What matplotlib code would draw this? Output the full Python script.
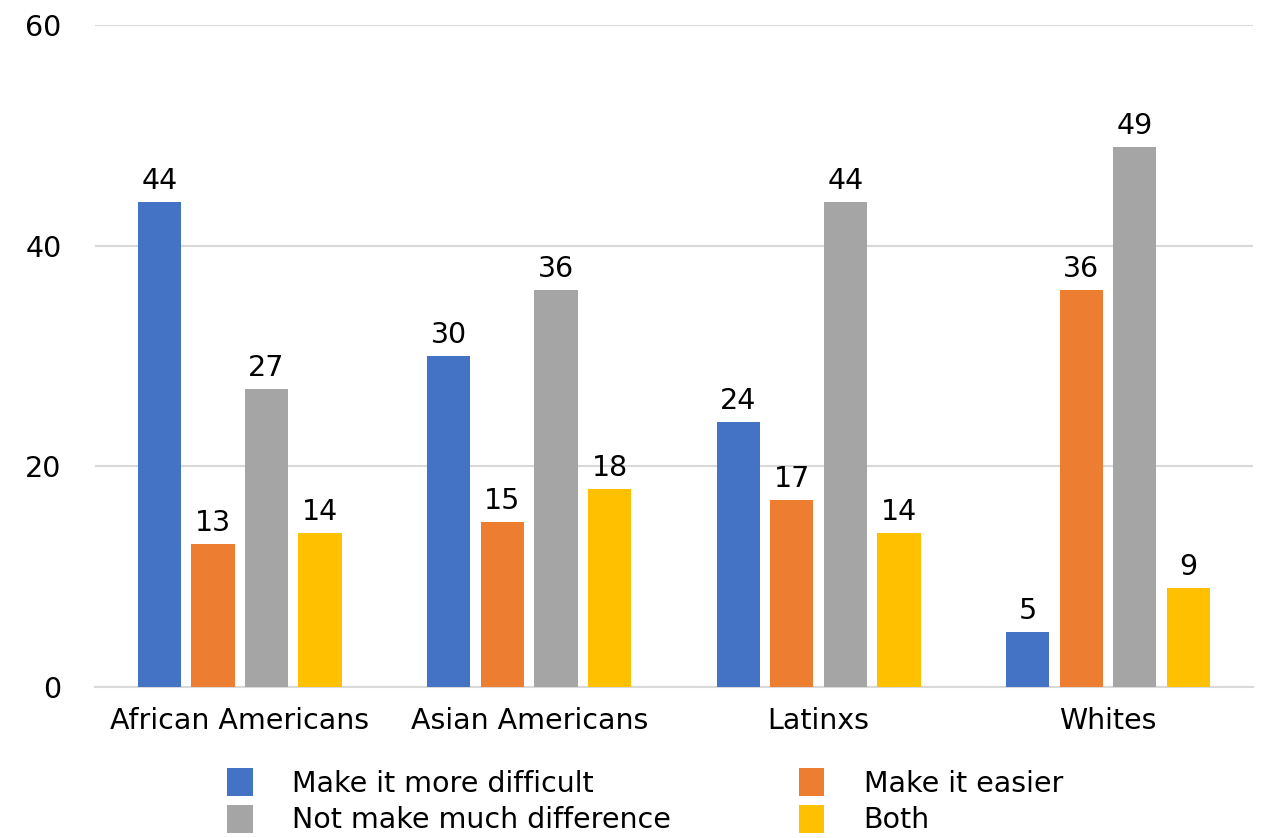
import numpy as np
import matplotlib.pyplot as plt

categories = ['African Americans', 'Asian Americans', 'Latinxs', 'Whites']
series_names = ['Make it more difficult', 'Make it easier',
                'Not make much difference', 'Both']
more_difficult = [44, 30, 24, 5]
easier = [13, 15, 17, 36]
no_difference = [27, 36, 44, 49]
both = [14, 18, 14, 9]
y_ticks = [0, 20, 40, 60]

colours = ['#4472c4', '#ed7d31', '#a5a5a5', '#ffc000']

plt.rcParams['font.family'] = ['DejaVu Sans']
fs = 20.5

fig = plt.figure(figsize=(12.63, 8.38), dpi=100)
ax = fig.add_axes([0.0752, 0.180, 0.9168, 0.790])

x = np.arange(len(categories))
step = 0.185
width = 0.149
values = [more_difficult, easier, no_difference, both]
bars = []
for i, (vals, col, name) in enumerate(zip(values, colours, series_names)):
    b = ax.bar(x + (i - 1.5) * step, vals, width, color=col, label=name, zorder=3)
    ax.bar_label(b, padding=5, fontsize=fs)
    bars.append(b)

ax.set_xlim(-0.5, len(categories) - 0.5)
ax.set_ylim(0, 60)
ax.set_yticks(y_ticks)
ax.set_xticks(x)
ax.set_xticklabels(categories)
ax.tick_params(axis='both', length=0, labelsize=fs)
ax.tick_params(axis='y', pad=24)
ax.tick_params(axis='x', pad=14)
ax.grid(axis='y', color='#d9d9d9', linewidth=1.5, zorder=0)
for side in ['top', 'left', 'right']:
    ax.spines[side].set_visible(False)
ax.spines['bottom'].set_color('#d9d9d9')
ax.spines['bottom'].set_linewidth(1.5)

# legend: column order blue/gray, orange/yellow
handles = [bars[0], bars[2], bars[1], bars[3]]
labels = [series_names[0], series_names[2], series_names[1], series_names[3]]
fig.legend(handles, labels, ncol=2, loc='upper left',
           bbox_to_anchor=(0.18, 0.083), frameon=False, fontsize=fs,
           handlelength=0.9, handleheight=1.12, handletextpad=1.38,
           labelspacing=0.24, columnspacing=4.48, borderpad=0, borderaxespad=0)

fig.savefig('out.png', dpi=100)
